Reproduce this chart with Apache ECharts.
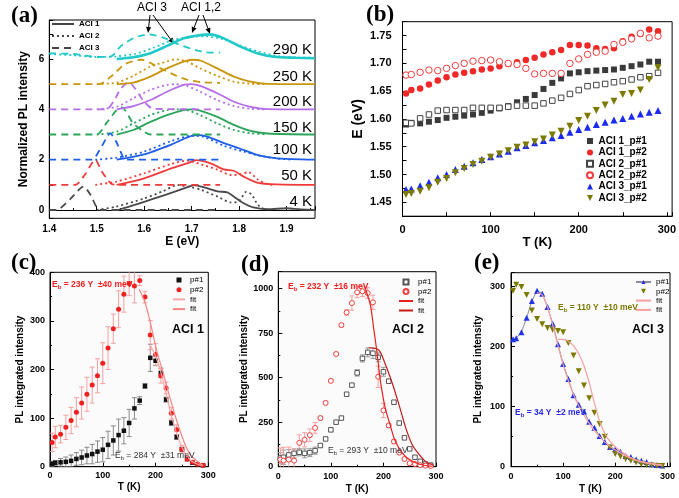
<!DOCTYPE html>
<html>
<head>
<meta charset="utf-8">
<script src="https://cdn.jsdelivr.net/npm/echarts/dist/echarts.min.js"></script>
<style>html,body{margin:0;background:#fff}#main{width:679px;height:498px}</style>
</head>
<body>
<div id="main"></div>
<script>
var SANS = '"Liberation Sans", Arial, sans-serif';

// ---- (a) PL spectra, [E (eV), offset intensity] ----
var tempLabels = ['4 K', '50 K', '100 K', '150 K', '200 K', '250 K', '290 K'];
var tempLabelY = [202, 176, 150, 128, 102, 77, 50];
var tempColors = ['#4a4a4a', '#f03a3a', '#1f5fe8', '#2aa55a', '#b56ee6', '#c8960c', '#22c9c9'];

var aci1_4K = [[1.545,0],[1.58,0.2],[1.62,0.45],[1.66,0.7],[1.69,0.9],[1.705,0.99],[1.73,0.88],[1.755,0.74],[1.775,0.7],[1.79,0.52],[1.805,0.32],[1.83,0.1],[1.86,0.03],[1.9,0.07],[1.93,0.02],[1.96,0]];
var aci2_4K = [[1.50,0],[1.54,0.13],[1.6,0.46],[1.64,0.75],[1.67,0.99],[1.70,0.9],[1.72,0.8],[1.755,0.53],[1.783,0.3],[1.80,0.35],[1.815,0.72],[1.826,0.62],[1.84,0.2],[1.855,0]];
var aci3_4K = [[1.40,0],[1.415,0],[1.445,0.45],[1.472,0.93],[1.487,0.6],[1.50,0.1],[1.51,0],[1.76,0]];

var aci1_50K = [[1.542,1.0],[1.60,1.26],[1.657,1.65],[1.69,1.85],[1.71,1.98],[1.74,1.85],[1.768,1.61],[1.79,1.55],[1.81,1.32],[1.84,1.08],[1.88,1.02],[1.96,1.0]];
var aci2_50K = [[1.497,1.0],[1.542,1.13],[1.60,1.46],[1.657,1.83],[1.69,1.96],[1.725,1.78],[1.755,1.6],[1.783,1.39],[1.80,1.42],[1.82,1.5],[1.84,1.2],[1.86,1.02],[1.87,1.0]];
var aci3_50K = [[1.40,1.0],[1.455,1.0],[1.475,1.4],[1.497,2.0],[1.51,1.55],[1.53,1.05],[1.54,1.0],[1.76,1.0]];

var aci1_100K = [[1.542,2.0],[1.60,2.21],[1.657,2.6],[1.685,2.84],[1.70,2.95],[1.712,2.98],[1.733,2.92],[1.768,2.66],[1.79,2.52],[1.81,2.38],[1.84,2.18],[1.88,2.05],[1.96,2.0]];
var aci2_100K = [[1.497,2.0],[1.542,2.08],[1.60,2.32],[1.657,2.74],[1.70,2.95],[1.725,2.91],[1.768,2.55],[1.81,2.32],[1.845,2.15],[1.88,2.05],[1.91,2.0]];
var aci3_100K = [[1.40,2.0],[1.49,2.0],[1.505,2.35],[1.52,2.85],[1.528,3.05],[1.54,2.75],[1.553,2.2],[1.56,2.0],[1.76,2.0]];

var aci1_150K = [[1.542,3.0],[1.577,3.18],[1.613,3.5],[1.648,3.77],[1.683,3.97],[1.70,4.0],[1.718,3.95],[1.754,3.7],[1.789,3.38],[1.824,3.14],[1.86,3.04],[1.96,3.0]];
var aci2_150K = [[1.50,3.0],[1.542,3.11],[1.577,3.44],[1.613,3.77],[1.648,3.97],[1.665,4.0],[1.69,3.97],[1.718,3.77],[1.754,3.44],[1.789,3.18],[1.824,3.05],[1.86,3.0]];
var aci3_150K = [[1.40,3.0],[1.50,3.0],[1.52,3.44],[1.542,3.97],[1.553,4.08],[1.577,3.44],[1.60,3.11],[1.613,3.0],[1.76,3.0]];

var aci1_200K = [[1.542,4.0],[1.577,4.13],[1.613,4.37],[1.648,4.7],[1.683,4.97],[1.70,5.0],[1.718,4.93],[1.754,4.64],[1.789,4.3],[1.824,4.1],[1.86,4.01],[1.96,4.0]];
var aci2_200K = [[1.50,4.0],[1.542,4.1],[1.577,4.44],[1.613,4.77],[1.648,4.97],[1.665,5.0],[1.69,4.93],[1.718,4.7],[1.754,4.37],[1.789,4.13],[1.824,4.02],[1.86,4.0]];
var aci3_200K = [[1.40,4.0],[1.52,4.0],[1.535,4.3],[1.55,4.8],[1.567,5.07],[1.58,4.85],[1.60,4.3],[1.62,4.02],[1.76,4.0]];

var aci1_250K = [[1.542,5.0],[1.577,5.06],[1.613,5.3],[1.648,5.63],[1.676,5.85],[1.70,5.97],[1.718,5.94],[1.754,5.63],[1.789,5.3],[1.824,5.1],[1.86,5.01],[1.96,5.0]];
var aci2_250K = [[1.50,5.0],[1.542,5.06],[1.577,5.33],[1.613,5.7],[1.648,5.9],[1.665,5.99],[1.69,5.9],[1.718,5.63],[1.754,5.33],[1.789,5.1],[1.824,5.02],[1.86,5.0]];
var aci3_250K = [[1.40,5.0],[1.505,5.0],[1.53,5.3],[1.56,5.8],[1.595,5.97],[1.63,5.67],[1.66,5.4],[1.69,5.18],[1.72,5.08],[1.76,5.05]];

var aci1_290K = [[1.542,6.0],[1.577,6.07],[1.613,6.23],[1.648,6.52],[1.683,6.82],[1.718,6.95],[1.74,6.98],[1.768,6.82],[1.803,6.49],[1.838,6.23],[1.873,6.09],[1.92,6.05],[1.96,6.03]];
var aci2_290K = [[1.40,6.2],[1.45,6.15],[1.50,6.08],[1.54,6.1],[1.58,6.2],[1.62,6.45],[1.66,6.75],[1.70,6.88],[1.73,6.9],[1.76,6.82],[1.80,6.55],[1.84,6.3],[1.88,6.12],[1.92,6.06],[1.96,6.05]];
var aci3_290K = [[1.40,6.22],[1.45,6.2],[1.50,6.08],[1.53,6.1],[1.55,6.5],[1.58,6.85],[1.61,6.98],[1.64,6.85],[1.67,6.6],[1.70,6.4],[1.73,6.27],[1.76,6.25]];

var aci1 = [aci1_4K, aci1_50K, aci1_100K, aci1_150K, aci1_200K, aci1_250K, aci1_290K];
var aci2 = [aci2_4K, aci2_50K, aci2_100K, aci2_150K, aci2_200K, aci2_250K, aci2_290K];
var aci3 = [aci3_4K, aci3_50K, aci3_100K, aci3_150K, aci3_200K, aci3_250K, aci3_290K];

// ---- temperatures shared by (b)-(e) ----
var T = [4,10,20,30,40,50,60,70,80,90,100,110,120,130,140,150,160,170,180,190,200,210,220,230,240,250,260,270,280,290];

// ---- (b) peak energies ----
var b_aci1_p1 = [1.590,1.593,1.592,1.595,1.598,1.602,1.604,1.606,1.608,1.611,1.615,1.619,1.623,1.630,1.636,1.643,1.654,1.665,1.673,1.682,1.684,1.686,1.687,1.688,1.689,1.692,1.695,1.698,1.703,1.703];
var b_aci1_p2 = [1.646,1.652,1.655,1.662,1.669,1.675,1.680,1.683,1.686,1.689,1.691,1.695,1.699,1.702,1.706,1.710,1.716,1.720,1.724,1.733,1.733,1.732,1.727,1.726,1.727,1.740,1.748,1.753,1.761,1.758];
var b_aci2_p1 = [1.593,1.592,1.601,1.608,1.615,1.616,1.616,1.616,1.620,1.620,1.620,1.620,1.622,1.624,1.624,1.624,1.628,1.633,1.638,1.645,1.652,1.659,1.661,1.663,1.666,1.668,1.671,1.675,1.677,1.683];
var b_aci2_p2 = [1.679,1.680,1.684,1.688,1.687,1.691,1.696,1.700,1.704,1.705,1.706,1.703,1.700,1.698,1.691,1.681,1.682,1.682,1.682,1.700,1.708,1.716,1.720,1.722,1.734,1.738,1.744,1.754,1.746,1.749];
var b_aci3_p1 = [1.473,1.474,1.480,1.486,1.494,1.500,1.509,1.515,1.521,1.527,1.532,1.537,1.542,1.548,1.552,1.557,1.561,1.566,1.570,1.576,1.581,1.585,1.590,1.594,1.598,1.601,1.605,1.609,1.612,1.615];
var b_aci3_p2 = [1.464,1.466,1.470,1.476,1.486,1.493,1.503,1.511,1.518,1.524,1.531,1.537,1.543,1.549,1.553,1.559,1.564,1.571,1.578,1.587,1.597,1.605,1.615,1.625,1.632,1.644,1.646,1.652,1.671,1.692];

// ---- (c) ACI 1 integrated intensity ----
var c_p1 = [6,8,9,10,12,16,19,23,26,31,35,45,54,65,74,90,120,136,166,224,218,193,138,90,61,36,16,8,5,3];
var c_p1_err = [5,5,8,10,12,13,15,17,20,22,25,28,30,33,27,28,22,8,5,28,10,10,5,5,5,4,3,2,2,1];
var c_p2 = [50,61,67,81,95,112,131,149,168,187,213,244,284,324,355,377,372,383,349,271,231,187,162,110,76,36,16,9,5,3];
var c_p2_err = [19,22,18,25,27,30,33,35,37,35,42,44,30,38,37,25,35,10,12,30,22,15,12,12,10,8,5,3,2,2];
var c_fit1 = [[190,250],[200,228],[210,195],[220,150],[230,105],[240,68],[250,40],[260,21],[270,10],[280,5],[290,2]];
var c_fit2 = [[169,365],[180,338],[189,302],[202,240],[215,191],[227,143],[240,95],[253,54],[265,26],[284,7],[290,3]];

// ---- (d) ACI 2 integrated intensity ----
var d_p1 = [49,53,66,75,81,75,79,90,119,156,207,250,273,407,458,527,608,642,637,614,533,480,362,245,162,100,53,30,15,9];
var d_p1_err = [30,40,30,25,20,25,22,20,8,8,8,8,8,8,8,18,20,25,30,25,25,10,8,8,6,5,4,3,2,2];
var d_p2 = [40,34,40,34,134,151,177,218,273,358,482,633,795,866,919,979,985,975,923,505,316,232,141,79,43,19,15,9,6,4];
var d_p2_err = [65,75,70,65,45,40,35,30,10,10,8,8,10,15,40,30,30,30,40,60,40,10,10,8,5,5,3,3,2,2];
var d_fit1 = [[164,1013],[175,910],[181,787],[188,636],[194,486],[203,335],[213,232],[222,147],[235,81],[248,43],[267,15],[292,2]];
var d_fit2 = [[172,668],[191,655],[203,580],[216,476],[229,354],[242,222],[254,128],[267,72],[280,30],[296,6]];

// ---- (e) ACI 3 integrated intensity ----
var e_p1 = [212,214,224,248,276,293,288,266,238,204,171,146,119,103,92,75,65,51,41,33,29,25,18,16,12,10,8,4,3,2];
var e_p2 = [293,303,299,286,260,246,237,231,228,226,224,206,185,159,135,114,90,71,50,32,21,17,13,10,7,4,3,2,1,1];
var e_fit1 = [[50,290],[60,286],[70,266],[80,236],[90,202],[100,170],[110,143],[120,120],[130,101],[140,86],[150,72],[160,60],[170,50],[180,41],[190,34],[200,28],[220,18],[240,11],[260,7],[280,4],[290,3]];
var e_fit2 = [[90,212],[100,212],[110,209],[120,201],[130,188],[140,168],[150,140],[160,106],[170,76],[180,55],[190,42],[200,33],[220,20],[240,11],[260,6],[290,2]];

function pairs(xs, ys) { return xs.map(function (x, i) { return [x, ys[i]]; }); }

function axis(gi, o) {
  var a = {
    type: 'value', gridIndex: gi, min: o.min, max: o.max,
    splitLine: { show: false },
    axisLine: { show: true, lineStyle: { color: '#000', width: 1 } },
    axisTick: { show: true, inside: true, length: 4, lineStyle: { color: '#000' } },
    minorTick: { show: !!o.minor, splitNumber: 2, length: 2, lineStyle: { color: '#000' } },
    axisLabel: { color: '#000', fontWeight: 'bold', fontFamily: SANS, fontSize: o.fs || 9, margin: o.margin || 5, formatter: o.fmt },
    name: o.name, nameLocation: 'middle', nameGap: o.gap,
    nameTextStyle: { color: '#000', fontWeight: 'bold', fontFamily: SANS, fontSize: o.nfs || 10 }
  };
  if (o.interval) a.interval = o.interval;
  if (o.splitNumber) a.splitNumber = o.splitNumber;
  return a;
}

function errBars(xi, ys, errs, color) {
  return {
    type: 'custom', xAxisIndex: xi, yAxisIndex: xi, silent: true, clip: true, z: 1,
    data: T.map(function (t, i) { return [t, ys[i] - errs[i], ys[i] + errs[i]]; }),
    encode: { x: 0, y: [1, 2] },
    renderItem: function (params, api) {
      var lo = api.coord([api.value(0), api.value(1)]);
      var hi = api.coord([api.value(0), api.value(2)]);
      var st = { stroke: color, lineWidth: 1, fill: null };
      return { type: 'group', children: [
        { type: 'line', shape: { x1: lo[0], y1: lo[1], x2: hi[0], y2: hi[1] }, style: st },
        { type: 'line', shape: { x1: lo[0] - 2.5, y1: lo[1], x2: lo[0] + 2.5, y2: lo[1] }, style: st },
        { type: 'line', shape: { x1: hi[0] - 2.5, y1: hi[1], x2: hi[0] + 2.5, y2: hi[1] }, style: st }
      ] };
    }
  };
}

function scat(name, xi, data, sym, size, fill, border, rot) {
  return {
    name: name, type: 'scatter', xAxisIndex: xi, yAxisIndex: xi, data: data, symbol: sym, symbolSize: size,
    symbolRotate: rot || 0, z: 3,
    itemStyle: { color: fill, borderColor: border || fill, borderWidth: border ? 1 : 0, opacity: 1 }
  };
}

function fitLine(name, xi, data, color, w) {
  return { name: name, type: 'line', xAxisIndex: xi, yAxisIndex: xi, data: data, symbol: 'none', smooth: 0.3, z: 4,
    lineStyle: { color: color, width: w || 1.2 }, itemStyle: { color: color } };
}

var series = [];
// (a) legend dummies
[['ACI 1', 'solid'], ['ACI 2', [2, 3]], ['ACI 3', [7, 5]]].forEach(function (d) {
  series.push({ name: d[0], type: 'line', xAxisIndex: 0, yAxisIndex: 0, data: [], symbol: 'none',
    lineStyle: { color: '#444', width: 2.5, type: d[1] }, itemStyle: { color: '#444' } });
});
for (var i = 0; i < 7; i++) {
  var c = tempColors[i];
  series.push({ type: 'line', xAxisIndex: 0, yAxisIndex: 0, data: aci3[i], symbol: 'none', smooth: 0.25, silent: true,
    lineStyle: { color: c, width: 1.8, type: [7, 5] } });
  series.push({ type: 'line', xAxisIndex: 0, yAxisIndex: 0, data: aci2[i], symbol: 'none', smooth: 0.25, silent: true,
    lineStyle: { color: c, width: 1.8, type: [2, 3] } });
  series.push({ type: 'line', xAxisIndex: 0, yAxisIndex: 0, data: aci1[i], symbol: 'none', smooth: 0.25, silent: true,
    lineStyle: { color: c, width: i === 6 ? 2.6 : 1.8 } });
}
// (b)
series.push(scat('ACI 1_p#1', 1, pairs(T, b_aci1_p1), 'rect', 6, '#3a3a3a'));
series.push(scat('ACI 1_p#2', 1, pairs(T, b_aci1_p2), 'circle', 6.5, '#f02828'));
series.push(scat('ACI 2_p#1', 1, pairs(T, b_aci2_p1), 'rect', 5.5, '#fff', '#444'));
series.push(scat('ACI 2_p#2', 1, pairs(T, b_aci2_p2), 'circle', 6.5, '#fff', '#f03c3c'));
series.push(scat('ACI 3_p#1', 1, pairs(T, b_aci3_p1), 'triangle', 7, '#1a2af0'));
series.push(scat('ACI 3_p#2', 1, pairs(T, b_aci3_p2), 'triangle', 7, '#7d7a00', null, 180));
// (c)
series.push(errBars(2, c_p1, c_p1_err, '#8a8a8a'));
series.push(errBars(2, c_p2, c_p2_err, '#f5a0a0'));
series.push(scat('p#1 c', 2, pairs(T, c_p1), 'rect', 4.5, '#111'));
series.push(scat('p#2 c', 2, pairs(T, c_p2), 'circle', 5, '#f02020'));
series.push(fitLine('fit c1', 2, c_fit1, '#f7a8a8'));
series.push(fitLine('fit c2', 2, c_fit2, '#f58585'));
// (d)
series.push(errBars(3, d_p1, d_p1_err, '#9a9a9a'));
series.push(errBars(3, d_p2, d_p2_err, '#f5a0a0'));
series.push(scat('p#1 d', 3, pairs(T, d_p1), 'rect', 4.5, '#fff', '#555'));
series.push(scat('p#2 d', 3, pairs(T, d_p2), 'circle', 5, '#fff', '#f04040'));
series.push(fitLine('fit d1', 3, d_fit1, '#e82020'));
series.push(fitLine('fit d2', 3, d_fit2, '#c81818'));
// (e)
series.push({ name: 'p#1 e', type: 'line', xAxisIndex: 4, yAxisIndex: 4, data: pairs(T, e_p1), symbol: 'triangle', symbolSize: 6,
  z: 3, lineStyle: { color: '#8a8aa0', width: 1 }, itemStyle: { color: '#1f33e8' } });
series.push(scat('p#2 e', 4, pairs(T, e_p2), 'triangle', 6, '#7d7a00', null, 180));
series.push(fitLine('fit e1', 4, e_fit1, '#f5a0a0'));
series.push(fitLine('fit e2', 4, e_fit2, '#f5a0a0'));

// legend icons kept square (built-in rect/triangle would stretch to the item box)
var ICONS = { sq: 'path://M0,0H10V10H0Z', up: 'path://M5,0L10,10H0Z', dn: 'path://M0,0H10L5,10Z', ci: 'circle' };

// legend entries: 'line:' names show the line only, 'xx:' names use an icon from ICONS
function legendBox(names, left, top, w, h, gap, fs, lh, bold) {
  var items = names.map(function (n) {
    var p = n.split(':');
    if (p.length === 1) return { name: n };
    if (p[0] === 'line') return { name: p[1], itemStyle: { opacity: 0 } };
    return { name: p[1], icon: ICONS[p[0]] };
  });
  return { data: items, left: left, top: top, orient: 'vertical', itemWidth: w, itemHeight: h, itemGap: gap,
    selectedMode: false, padding: 0, symbolKeepAspect: true,
    formatter: function (n) { return n.split(' ')[0] === 'ACI' ? n : n.split(' ')[0]; },
    textStyle: { fontSize: fs, lineHeight: lh, fontWeight: bold ? 'bold' : 'normal', color: '#000', fontFamily: SANS } };
}

function arrow(x1, y1, x2, y2) {
  var a = Math.atan2(y2 - y1, x2 - x1), L = 6, W = 2.6;
  var bx = x2 - L * Math.cos(a), by = y2 - L * Math.sin(a);
  return [
    { type: 'line', shape: { x1: x1, y1: y1, x2: bx, y2: by }, style: { stroke: '#000', lineWidth: 1 } },
    { type: 'polygon', shape: { points: [[x2, y2], [bx + W * Math.sin(a), by - W * Math.cos(a)], [bx - W * Math.sin(a), by + W * Math.cos(a)]] }, style: { fill: '#000' } }
  ];
}

function txt(x, y, s, font, color, align, valign, rich) {
  return { type: 'text', x: x, y: y, silent: true, z: 10,
    style: { text: s, font: font, fill: color || '#000', align: align || 'left', verticalAlign: valign || 'middle',
      textAlign: align || 'left', textVerticalAlign: valign || 'middle', rich: rich } };
}

function ebText(x, y, val, color, bold) {
  var w = bold ? 'bold ' : '';
  return txt(x, y, '{n|E}{s|b}{n| = ' + val + '}', null, color, 'left', 'middle', {
    n: { font: w + '8.5px ' + SANS, fill: color, color: color },
    s: { font: w + '6px ' + SANS, fill: color, color: color, padding: [5, 0, 0, 0] }
  });
}

var graphics = [];
var letterFont = 'bold 23px "Liberation Serif", "Times New Roman", serif';
graphics.push(txt(11, 16, '(a)', letterFont));
graphics.push(txt(366, 15, '(b)', letterFont));
graphics.push(txt(11, 263, '(c)', letterFont));
graphics.push(txt(241, 265, '(d)', letterFont));
graphics.push(txt(474, 263, '(e)', letterFont));
tempLabels.forEach(function (t, i) {
  graphics.push(txt(312, tempLabelY[i], t, '15px ' + SANS, '#000', 'right'));
});
graphics.push(txt(152, 8, 'ACI 3', '12px ' + SANS, '#000', 'center'));
graphics.push(txt(201, 8, 'ACI 1,2', '12px ' + SANS, '#000', 'center'));
graphics = graphics.concat(arrow(150, 15, 148, 33), arrow(153, 15, 174, 44), arrow(199, 15, 192, 33), arrow(203, 15, 210, 34));
graphics.push(txt(188, 330, 'ACI 1', 'bold 12.5px ' + SANS, '#000', 'center'));
graphics.push(txt(408, 330, 'ACI 2', 'bold 12.5px ' + SANS, '#000', 'center'));
graphics.push(txt(648, 330, 'ACI 3', 'bold 12.5px ' + SANS, '#000', 'center'));
graphics.push(ebText(52, 285, '236 \u03a5  \u00b140 meV', '#f02020', true));
graphics.push(ebText(115, 456, '284 \u03a5  \u00b131 meV', '#333', false));
graphics.push(ebText(288, 287, '232 \u03a5  \u00b116 meV', '#f02020', true));
graphics.push(ebText(328, 451, '293 \u03a5  \u00b110 meV', '#333', false));
graphics.push(ebText(558, 308, '110 \u03a5  \u00b110 meV', '#7d7a00', true));
graphics.push(ebText(515, 413, '34 \u03a5  \u00b12 meV', '#2a2ae8', true));

function evenInt(v) { var r = Math.round(v); return (Math.abs(v - r) < 1e-6 && r % 2 === 0) ? String(r) : ''; }
function tenth(v) { var r = Math.round(v * 10); return Math.abs(v * 10 - r) < 1e-6 ? (r / 10).toFixed(1) : ''; }
function mult(m) { return function (v) { var r = Math.round(v); return (Math.abs(v - r) < 1e-6 && r % m === 0) ? String(r) : ''; }; }
function eLab(v) { var k = Math.round(v * 1000); return (Math.abs(v * 1000 - k) < 1e-4 && k % 50 === 0) ? (k / 1000).toFixed(2) : ''; }

var option = {
  backgroundColor: '#fff',
  animation: false,
  textStyle: { fontFamily: SANS },
  grid: [
    { left: 49.3, top: 20, width: 265.7, height: 198.3, show: true, borderColor: '#000', borderWidth: 1 },
    { left: 402.5, top: 21.7, width: 270.5, height: 194.5, show: true, borderColor: '#000', borderWidth: 1 },
    { left: 50, top: 272.3, width: 158.3, height: 194.4, show: true, borderColor: '#000', borderWidth: 1, backgroundColor: '#fbfbfb' },
    { left: 278.3, top: 271.7, width: 157.7, height: 195, show: true, borderColor: '#000', borderWidth: 1, backgroundColor: '#fbfbfb' },
    { left: 511, top: 272.7, width: 159, height: 194, show: true, borderColor: '#000', borderWidth: 1, backgroundColor: '#fbfbfb' }
  ],
  xAxis: [
    axis(0, { min: 1.4, max: 1.96, interval: 0.1, minor: true, fmt: tenth, fs: 10, margin: 6, name: 'E (eV)', gap: 16, nfs: 12 }),
    axis(1, { min: 0, max: 306, interval: 50, fmt: mult(100), fs: 11, margin: 8, name: 'T (K)', gap: 19, nfs: 13 }),
    axis(2, { min: 0, max: 300, interval: 100, minor: true, fmt: mult(100), margin: 4, name: 'T (K)', gap: 16 }),
    axis(3, { min: 0, max: 300, interval: 100, minor: true, fmt: mult(100), margin: 5, name: 'T (K)', gap: 18 }),
    axis(4, { min: 0, max: 305, interval: 100, minor: true, fmt: mult(100), margin: 5, name: 'T (K)', gap: 18 })
  ],
  yAxis: [
    axis(0, { min: -0.33, max: 7.55, splitNumber: 8, fmt: evenInt, fs: 10, margin: 5, name: 'Normalized PL intensity', gap: 20, nfs: 12 }),
    axis(1, { min: 1.425, max: 1.775, interval: 0.025, fmt: eLab, fs: 11, margin: 11, name: 'E (eV)', gap: 37, nfs: 14 }),
    axis(2, { min: 0, max: 400, interval: 100, minor: true, fmt: mult(100), margin: 5, name: 'PL integrated intensity', gap: 25 }),
    axis(3, { min: 0, max: 1095, interval: 250, minor: true, fmt: mult(250), margin: 5, name: 'PL integrated intensity', gap: 21 }),
    axis(4, { min: 0, max: 323, interval: 100, minor: true, fmt: mult(100), margin: 6, name: 'PL integrated intensity', gap: 28 })
  ],
  legend: [
    legendBox(['line:ACI 1', 'line:ACI 2', 'line:ACI 3'], 51, 20, 22, 8, 4, 8, 8, true),
    legendBox(['sq:ACI 1_p#1', 'ci:ACI 1_p#2', 'sq:ACI 2_p#1', 'ci:ACI 2_p#2', 'up:ACI 3_p#1', 'dn:ACI 3_p#2'], 586, 136, 7, 6, 1.4, 10, 10, true),
    legendBox(['sq:p#1 c', 'ci:p#2 c', 'line:fit c1', 'line:fit c2'], 172, 276, 12, 5, 1.7, 8, 8, false),
    legendBox(['sq:p#1 d', 'ci:p#2 d', 'line:fit d1', 'line:fit d2'], 398, 278, 14, 5, 1.5, 8, 8, false),
    legendBox(['p#1 e', 'dn:p#2 e', 'line:fit e1', 'line:fit e2'], 635, 278, 15, 5, 1.3, 8, 8, false)
  ],
  graphic: graphics,
  series: series
};

var chart = echarts.init(document.getElementById('main'), null, { renderer: 'canvas' });
chart.setOption(option);
</script>
</body>
</html>
